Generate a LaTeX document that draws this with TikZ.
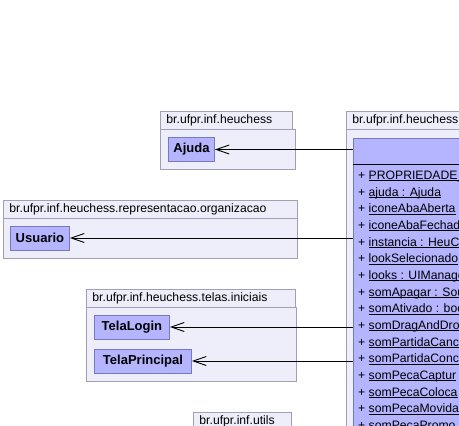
\documentclass[tikz,border=0pt]{standalone}
\usepackage{fontspec}
\setmainfont{Liberation Sans}
\usetikzlibrary{arrows.meta}
\definecolor{pkgfill}{HTML}{EEEEFA}
\definecolor{pkgline}{HTML}{A0A0B4}
\definecolor{clsfill}{HTML}{B4B4FF}
\definecolor{clsline}{HTML}{7878BE}
\newcommand\stul[1]{\setbox0\hbox{#1}\rlap{\rule[-1.6pt]{\wd0}{0.9pt}}\box0}
\tikzset{
	pkgtab/.style={draw=pkgline, fill=pkgfill, line width=0.9pt, anchor=north west, minimum height=18pt, inner xsep=6pt, inner ysep=0pt, text width=#1, align=left},
	pkgbody/.style={draw=pkgline, fill=pkgfill, line width=0.9pt, anchor=north west, inner sep=0pt},
	cls/.style={draw=clsline, fill=clsfill, line width=0.9pt, anchor=west, minimum height=24pt, inner sep=0pt, font=\bfseries\fontsize{13}{15}\selectfont},
	attr/.style={anchor=base west, inner sep=0pt},
	dep/.style={-{Straight Barb[length=13pt,width=9pt]}, line width=0.9pt}
}
\begin{document}
\begin{tikzpicture}[x=1pt, y=-1pt, font=\fontsize{12.2}{14}\selectfont]
		\useasboundingbox (0,0) rectangle (459,426);
		\clip (0,0) rectangle (459,426);
		\fill[white] (0,0) rectangle (459,426);
		\node[pkgbody, minimum width=135, minimum height=40] (pAjuda) at (160,129) {};
		\node[pkgtab=120] (pAjudaTab) at (160,111) {br.ufpr.inf.heuchess};
		\node[cls, minimum width=46] (ajuda) at (168,149.5) {Ajuda};
		\node[pkgbody, minimum width=294, minimum height=40] (pOrg) at (3,218) {};
		\node[pkgtab=282] (pOrgTab) at (3,200) {br.ufpr.inf.heuchess.representacao.organizacao};
		\node[cls, minimum width=59] (usuario) at (10,238) {Usuario};
		\node[pkgbody, minimum width=210, minimum height=74] (pTelas) at (86,307) {};
		\node[pkgtab=197] (pTelasTab) at (86,289) {br.ufpr.inf.heuchess.telas.iniciais};
		\node[cls, minimum width=75] (telaLogin) at (94,327) {TelaLogin};
		\node[cls, minimum width=97] (telaPrincipal) at (94,361) {TelaPrincipal};
		\node[pkgtab=86] (pUtilsTab) at (193,412) {br.ufpr.inf.utils};
		\node[pkgbody, minimum width=200, minimum height=320] (pHeu) at (346,129) {};
		\node[pkgtab=140] (pHeuTab) at (346,111) {br.ufpr.inf.heuchess};
		\node[cls, anchor=north west, minimum width=200, minimum height=320] (heu) at (353,138) {};
		\draw[line width=0.9pt] (heu.north west) ++(0,26) -- ++(120,0);
		\foreach \a [count=\i from 0] in {PROPRIEDADE\_, ajuda : Ajuda, iconeAbaAberta, iconeAbaFechad, instancia : HeuC, lookSelecionado, looks : UIManage, somApagar : Sou, somAtivado : boo, somDragAndDrop, somPartidaCanc, somPartidaConc, somPecaCaptur, somPecaColoca, somPecaMovida, somPecaPromo}
			\node[attr] (a\i) at (358,{179.5+16.67*\i}) {+ \stul{\a}};
		\draw[dep] (heu.west |- ajuda) -- (ajuda);
		\draw[dep] (heu.west |- usuario) -- (usuario);
		\draw[dep] (heu.west |- telaLogin) -- (telaLogin);
		\draw[dep] (heu.west |- telaPrincipal) -- (telaPrincipal);
	\end{tikzpicture}
\end{document}
